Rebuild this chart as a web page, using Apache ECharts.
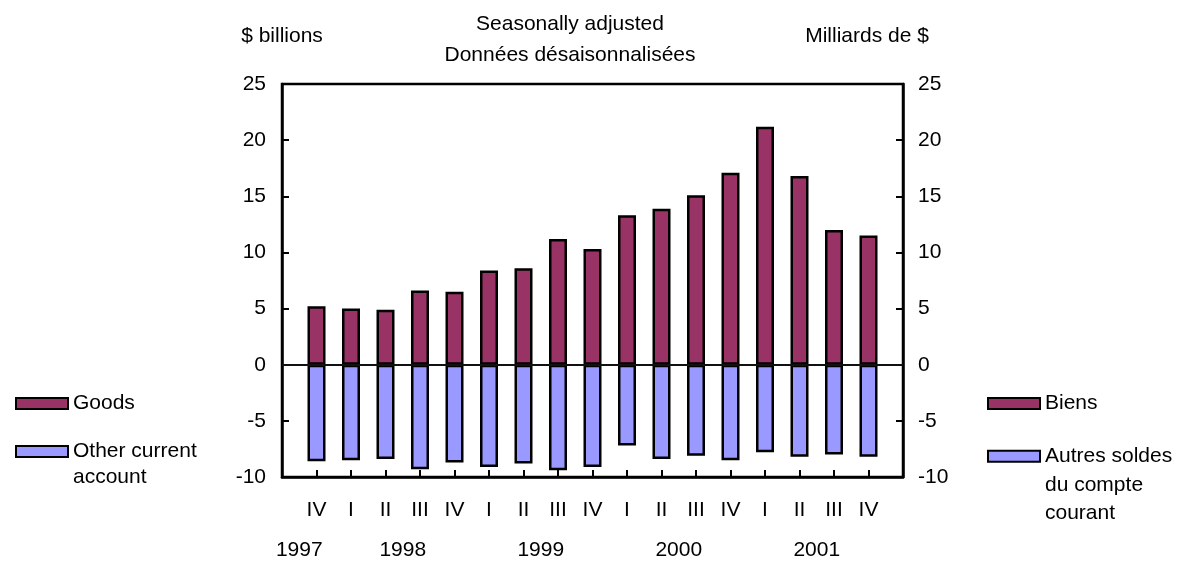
<!DOCTYPE html>
<html>
<head>
<meta charset="utf-8">
<script src="https://cdn.jsdelivr.net/npm/echarts@6/dist/echarts.min.js"></script>
<style>
    html, body { margin: 0; padding: 0; background: #fff; }
    #chart { width: 1186px; height: 583px; }
</style>
</head>
<body>
<div id="chart"></div>
<script>
const quarters = ['IV', 'I', 'II', 'III', 'IV', 'I', 'II', 'III', 'IV', 'I', 'II', 'III', 'IV', 'I', 'II', 'III', 'IV']
const years = ['1997', '', '', '1998', '', '', '', '1999', '', '', '', '2000', '', '', '', '2001', '', '']
const goods = [5.2, 5.0, 4.9, 6.6, 6.5, 8.4, 8.6, 11.2, 10.3, 13.3, 13.9, 15.1, 17.1, 21.2, 16.8, 12.0, 11.5]
const other = [-8.6, -8.5, -8.4, -9.3, -8.7, -9.1, -8.8, -9.4, -9.1, -7.2, -8.4, -8.1, -8.5, -7.8, -8.2, -8.0, -8.2]
const yTicks = { min: -10, max: 25, interval: 5 }

const font = 'Liberation Sans'
const fs = 21
// blank lines on top keep the first line level with the legend box
const legendText = {
    en: { 'Goods': 'Goods', 'Other current account': '\nOther current\naccount' },
    fr: { 'Goods': 'Biens', 'Other current account': '\n\nAutres soldes\ndu compte\ncourant' },
}

// pad one empty slot each side so the bars sit a full step away from the frame
const cats = [''].concat(quarters, [''])
const pad = arr => ['-'].concat(arr, ['-'])

const chart = echarts.init(document.getElementById('chart'))

const legend = (name, lang, left, top, lineHeight) => ({
    data: [name],
    left: left,
    top: top,
    orient: 'vertical',
    padding: 0,
    itemWidth: 52,
    itemHeight: 11,
    icon: 'rect',
    formatter: n => legendText[lang][n],
    textStyle: { fontFamily: font, fontSize: fs, color: '#000', lineHeight: lineHeight },
})

const axisLine = { show: true, onZero: false, lineStyle: { color: '#000', width: 2.5 } }
const tick = { show: true, inside: true, length: 7, lineStyle: { color: '#000', width: 2 } }

chart.setOption({
    animation: false,
    textStyle: { fontFamily: font },
    title: {
        text: 'Seasonally adjusted\nDonnées désaisonnalisées',
        left: 570,
        top: 9,
        textAlign: 'center',
        padding: 0,
        textStyle: { fontFamily: font, fontSize: fs, fontWeight: 'normal', color: '#000', lineHeight: 31 },
    },
    grid: {
        left: 282,
        right: 283,
        top: 84,
        bottom: 106,
        show: true,
        borderColor: '#000',
        borderWidth: 2.5,
    },
    legend: [
        legend('Goods', 'en', 15, 392, 23),
        legend('Other current account', 'en', 15, 412.5, 26),
        legend('Goods', 'fr', 987, 392, 23),
        legend('Other current account', 'fr', 987, 385, 28.5),
    ],
    xAxis: [{
        type: 'category',
        data: cats,
        boundaryGap: false,
        position: 'bottom',
        axisLine: axisLine,
        axisTick: Object.assign({ interval: 0 }, tick),
        axisLabel: { interval: 0, margin: 23, fontSize: fs, color: '#000' },
    }, {
        type: 'category',
        data: years,
        boundaryGap: true,
        position: 'bottom',
        axisLine: { show: false },
        axisTick: { show: false },
        axisLabel: { interval: 0, margin: 63, fontSize: fs, color: '#000' },
    }],
    yAxis: [{
        type: 'value',
        min: yTicks.min,
        max: yTicks.max,
        interval: yTicks.interval,
        position: 'left',
        name: '$ billions',
        nameGap: 37,
        nameTextStyle: { fontSize: fs, color: '#000' },
        splitLine: { show: false },
        axisLine: axisLine,
        axisTick: tick,
        axisLabel: { margin: 16, fontSize: fs, color: '#000' },
    }, {
        type: 'value',
        min: yTicks.min,
        max: yTicks.max,
        interval: yTicks.interval,
        position: 'right',
        name: 'Milliards de $',
        nameGap: 37,
        nameTextStyle: { fontSize: fs, color: '#000', padding: [0, 72, 0, 0] },
        splitLine: { show: false },
        axisLine: axisLine,
        axisTick: tick,
        axisLabel: { margin: 15, fontSize: fs, color: '#000' },
    }],
    series: [{
        name: 'Goods',
        type: 'bar',
        data: pad(goods),
        barWidth: 18,
        barGap: '-100%',
        itemStyle: { color: '#993366', borderColor: '#000', borderWidth: 2.5 },
        markLine: {
            silent: true,
            symbol: 'none',
            label: { show: false },
            lineStyle: { color: '#111', width: 2, type: 'solid' },
            data: [{ yAxis: 0 }],
        },
    }, {
        name: 'Other current account',
        type: 'bar',
        data: pad(other),
        barWidth: 18,
        barGap: '-100%',
        itemStyle: { color: '#9999ff', borderColor: '#000', borderWidth: 2.5 },
    }],
})
</script>
</body>
</html>
